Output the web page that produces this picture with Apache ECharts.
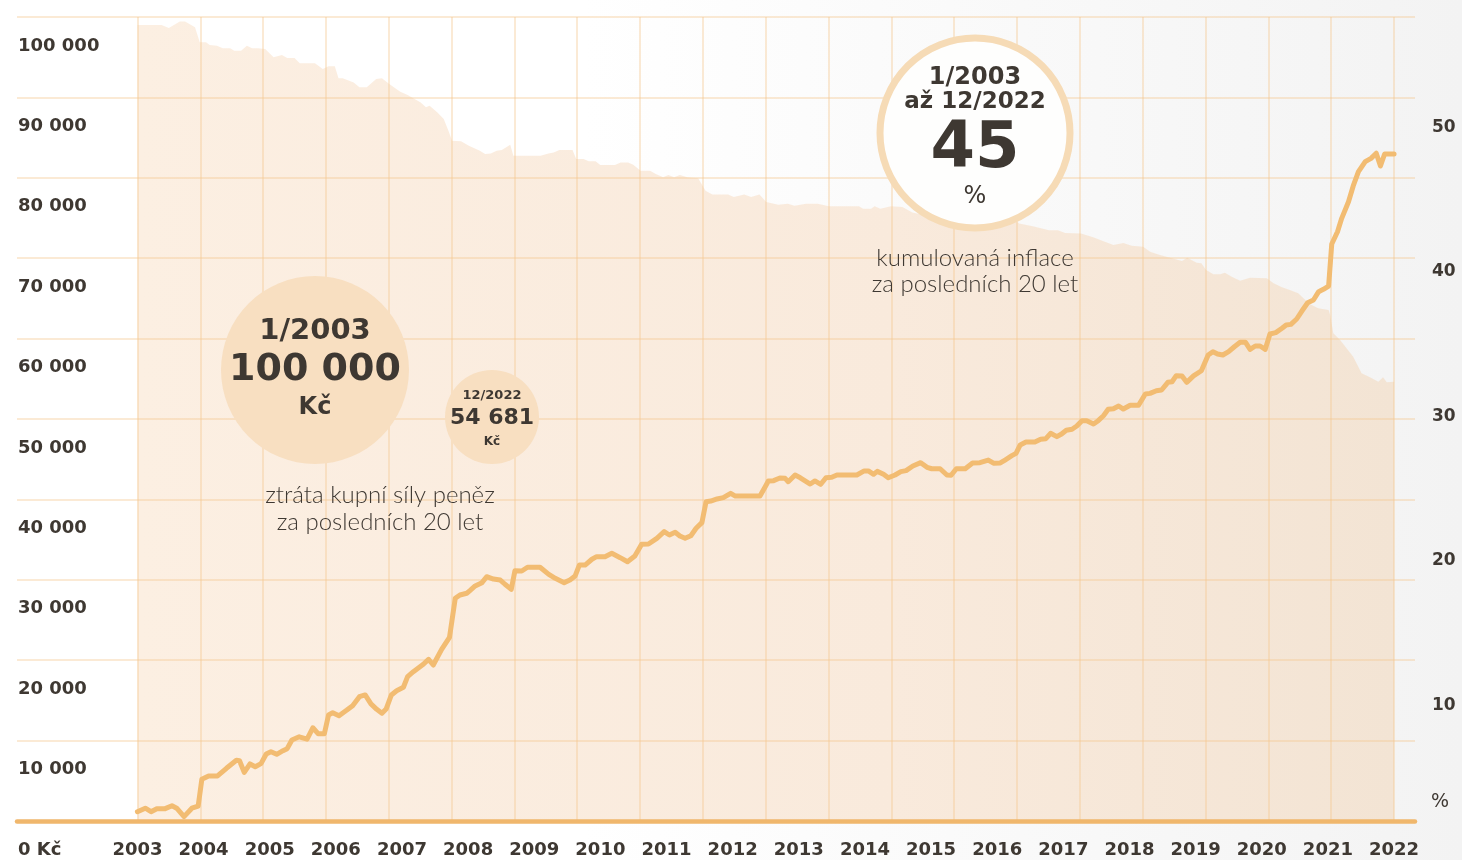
<!DOCTYPE html>
<html>
<head>
<meta charset="utf-8">
<script src="https://cdn.jsdelivr.net/npm/echarts@6/dist/echarts.min.js"></script>
<style>
html,body{margin:0;padding:0;width:1462px;height:860px;overflow:hidden;
background:linear-gradient(to right,#ffffff 0%,#ffffff 40%,#f3f3f3 100%);}
#c{width:1462px;height:860px;}
</style>
</head>
<body>
<div id="c"></div>
<script>
// ---- DATA ----
const yearLabels = ['2003','2004','2005','2006','2007','2008','2009','2010','2011','2012','2013','2014','2015','2016','2017','2018','2019','2020','2021','2022'];
// months since 1/2003 (x position) and cumulative loss of purchasing power in %
const lossMonths = [0,1.5,2.6,3.7,5.3,6.6,7.5,8.9,10.4,11.6,
12.3,13.6,15.3,17,18.9,19.5,20.4,21.5,22.5,23.6,
24.6,25.5,26.6,27.8,28.6,29.5,30.9,32.4,33.5,34.5,
35.7,36.5,37.3,38.5,40,41.1,42.4,43.5,44.6,45.7,
46.7,47.5,48.5,49.5,50.8,51.6,52.7,54.6,55.6,56.5,
58.1,59.6,60.7,61.6,62.9,63.5,64.5,65.8,66.7,68,
69.3,70.2,71.4,72.1,73.4,74.5,76.9,78.5,79.8,81.5,
82.6,83.6,84.4,85.5,86.8,87.7,89.3,90.6,92.2,93.6,
95,96.3,97.6,99.2,100.6,101.6,102.7,103.6,104.6,105.7,
106.7,107.8,108.6,109.5,110.7,111.9,113.3,114.2,118.9,119.9,
120.5,121.5,122.7,123.7,124.3,125.6,126.6,128.5,129.4,130.5,
131.5,132.6,133.6,137.4,138.8,139.6,140.6,141.3,142.5,143.4,
144.7,145.8,146.8,148.1,149.6,150.8,151.7,153.3,154.6,155.4,
156.4,158.1,159.5,160.9,162.5,163.5,164.8,165.7,167,167.8,
168.6,169.7,171.4,172.5,173.5,174.4,175.6,176.5,177.4,178.5,
179.4,180.4,181.3,182.6,183.5,184.5,185.4,186.4,187.4,188.3,
189.6,191.2,192.5,193.4,194.6,195.6,196.8,197.6,198.4,199.5,
200.4,201.7,203.2,204.5,205.4,206.3,207.3,208.4,209.5,210.6,
211.6,212.5,213.5,214.4,215.4,216.3,217.4,218.6,219.4,220.3,
221.4,222.4,223.5,224.6,225.6,226.5,227.5,228.1,229.2,230,
231.3,232.2,233.2,234.5,235.6,236.6,237.4,238.2,240];
const lossValues = [0.04,0.28,0.04,0.25,0.25,0.45,0.28,-0.30,0.28,0.43,
2.27,2.50,2.50,3.03,3.58,3.55,2.75,3.33,3.14,3.35,
4.01,4.17,3.99,4.24,4.38,4.98,5.20,5.03,5.82,5.41,
5.41,6.70,6.86,6.65,7.04,7.34,7.96,8.08,7.46,7.09,
6.82,7.11,8.08,8.37,8.61,9.34,9.68,10.19,10.53,10.14,
11.22,12.05,14.73,14.96,15.08,15.26,15.58,15.81,16.22,16.06,
15.99,15.70,15.35,16.63,16.61,16.87,16.87,16.40,16.11,15.81,
15.99,16.27,17.02,17.02,17.42,17.60,17.60,17.83,17.53,17.25,
17.64,18.45,18.47,18.86,19.32,19.09,19.28,19.02,18.86,19.04,
19.55,19.94,21.38,21.43,21.57,21.66,21.96,21.77,21.77,22.41,
22.81,22.83,23.01,22.99,22.76,23.22,23.03,22.60,22.81,22.58,
23.03,23.06,23.22,23.22,23.50,23.50,23.27,23.47,23.27,23.03,
23.22,23.45,23.52,23.84,24.07,23.75,23.65,23.65,23.22,23.20,
23.65,23.65,24.05,24.07,24.25,24.03,24.05,24.25,24.55,24.71,
25.29,25.49,25.49,25.68,25.72,26.09,25.86,26.04,26.30,26.37,
26.59,26.96,26.96,26.73,26.96,27.30,27.74,27.78,27.97,27.76,
28.02,28.02,28.80,28.84,29.02,29.07,29.60,29.64,30.06,30.04,
29.60,30.04,30.40,31.48,31.71,31.55,31.48,31.71,32.05,32.36,
32.36,31.87,32.10,32.10,31.87,32.93,33.02,33.32,33.55,33.59,
33.96,34.51,35.08,35.27,35.84,36.00,36.23,39.12,39.97,40.89,
42.03,43.12,44.10,44.79,45.02,45.37,44.49,45.32,45.32];
// purchasing power of 100 000 Kč (1/2003)
const powerMonths = [0,4.6,6.0,8.1,9.1,11.0,11.9,13.1,13.8,15.2,
16.3,17.7,18.5,19.8,20.9,21.9,23.0,24.4,26.0,27.6,
28.6,30.0,31.0,33.9,35.4,36.5,37.7,38.4,39.2,41.3,
42.4,43.8,45.6,46.7,48.1,50.2,51.6,54.1,55.1,55.8,
57.3,58.5,59.4,60.1,61.8,63.3,65.4,66.4,67.5,68.6,
69.6,71.2,71.8,77.0,78.5,79.5,80.6,83.1,83.8,85.2,
86.2,87.5,88.4,91.2,92.3,93.7,94.7,96.1,97.9,99.0,
100.4,101.4,102.5,103.6,105.0,107.1,108.5,109.8,112.8,113.9,
115.9,117.2,118.8,120.1,122.4,124.2,125.5,127.7,129.9,132.1,
137.8,138.6,140.1,140.8,141.9,143.9,146.1,148,150,152,
154.6,156.5,158.5,160.5,163,165.5,167.5,168.4,171.0,174.1,
175.8,177.2,180.2,182.4,183.9,186.4,188.3,189.9,192.1,193.4,
195.3,197.6,199.5,200.5,202.3,203.2,204.1,205.5,206.8,207.7,
209.0,210.6,212.5,215.7,217.0,218.6,220.1,221.7,222.7,223.9,
225.5,227.5,227.8,228.4,229.7,232.2,233.8,235.4,237.0,237.9,
238.6,240];
const powerValues = [100000,100000,99620,100430,100430,99710,97800,97800,97460,97370,
97040,97040,96740,96740,97370,97040,97040,96950,95900,96190,
95810,95810,95140,95140,94410,94760,94760,93230,93230,92710,
92080,92080,93140,93230,92510,91530,91110,90170,89540,89750,
88900,88060,86580,85310,85220,84670,84040,83600,83690,84040,
84130,84800,83400,83400,83690,83820,84130,84130,82970,82970,
82680,82680,82220,82220,82550,82550,82250,81480,81480,81070,
80650,80940,80650,80940,80650,80520,78940,78460,78460,78160,
78460,78160,78460,77520,77180,77300,77050,77300,77300,76970,
76970,76670,76670,76970,76670,76970,76890,76200,75900,76300,
76800,76350,76350,75950,75900,75800,75300,74780,74430,73930,
73930,73580,73510,73080,72700,72060,72310,71970,71840,71210,
70790,70370,70030,70450,69810,69730,68880,68340,68340,68540,
68030,67520,67910,67830,67190,66690,66340,65920,65290,64560,
64020,63800,63150,60840,59990,57870,55760,55250,54690,55250,
54620,54681];

// ---- CHART ----
const TXT = '#3e3832';
const NUM = '"DejaVu Sans", sans-serif';
const LIGHT = 'Lato, "Open Sans", sans-serif';
const gridColor = 'rgba(245,200,145,0.5)';
const yearTickMonths = yearLabels.map((_, i) => i * 12).concat([yearLabels.length * 12]);
const yearLabelPos = yearLabels.map((_, i) => i * 240 / (yearLabels.length - 1));
const fmtThousands = v => String(v).replace(/\B(?=(\d{3})+(?!\d))/g, ' ');

const chart = echarts.init(document.getElementById('c'), null, {renderer: 'canvas'});

function txt(text, x, y, size, weight, family, color) {
  return {type: 'text', z: 20, style: {text: text, x: x, y: y, fill: color || TXT,
    font: (weight || 'bold') + ' ' + size + 'px ' + (family || NUM), align: 'center', verticalAlign: 'middle'}};
}

chart.setOption({
  animation: false,
  backgroundColor: 'transparent',
  grid: {left: 17, right: 47, top: 17, bottom: 39, containLabel: false, outerBoundsMode: 'none'},
  xAxis: {
    type: 'value', min: -23, max: 244, z: 1,
    axisLine: {show: true, onZero: false, lineStyle: {color: '#f0b76c', width: 4.5}},
    axisTick: {show: false, customValues: yearTickMonths},
    splitLine: {show: true, lineStyle: {color: gridColor, width: 1.5}},
    axisLabel: {
      customValues: yearLabelPos, margin: 20, color: TXT, fontFamily: NUM, fontWeight: 'bold', fontSize: 18,
      hideOverlap: false,
      formatter: v => yearLabels[Math.round(v * (yearLabels.length - 1) / 240)]
    }
  },
  yAxis: [
    { // left labelled axis (Kč) with horizontal grid
      type: 'value', min: 0, max: 100000, interval: 10000, position: 'left', z: 1,
      axisLine: {show: false}, axisTick: {show: false},
      splitLine: {show: true, lineStyle: {color: gridColor, width: 1.5}},
      axisLabel: {inside: true, margin: 1, color: TXT, fontFamily: NUM, fontWeight: 'bold', fontSize: 18,
        verticalAlign: 'top', lineHeight: 58,
        formatter: v => v === 0 ? '0 Kč' : fmtThousands(v)}
    },
    { // right labelled axis (%)
      type: 'value', min: 0, max: 55.64, interval: 10, position: 'right',
      axisLine: {show: false}, axisTick: {show: false}, splitLine: {show: false},
      axisLabel: {margin: 17, align: 'left', color: TXT, fontFamily: NUM, fontWeight: 'bold', fontSize: 17,
        verticalAlign: 'top', lineHeight: 58, showMaxLabel: false,
        formatter: v => (v === 0 || v > 50) ? '' : String(v)}
    },
    { // data scale for purchasing power
      type: 'value', min: -1105, max: 101016, show: false, splitLine: {show: false}
    },
    { // data scale for cumulative loss %
      type: 'value', min: -0.599, max: 54.75, show: false, splitLine: {show: false}
    }
  ],
  series: [
    {
      type: 'line', name: 'kupní síla', yAxisIndex: 2, z: 0, silent: true,
      symbol: 'none', showSymbol: false,
      data: powerMonths.map((m, i) => [m, powerValues[i]]),
      lineStyle: {width: 0},
      areaStyle: {origin: 'start', opacity: 1, color: new echarts.graphic.LinearGradient(0, 0, 1, 0, [
        {offset: 0, color: '#fcefe2'}, {offset: 0.6, color: '#f9eadc'}, {offset: 1, color: '#f3e4d4'}])}
    },
    {
      type: 'line', name: 'kumulovaná inflace', yAxisIndex: 3, z: 5,
      symbol: 'none', showSymbol: false,
      data: lossMonths.map((m, i) => [m, lossValues[i]]),
      lineStyle: {color: '#f2bc72', width: 5, join: 'round', cap: 'round'}
    }
  ],
  graphic: [
    {type: 'circle', z: 10, shape: {cx: 315, cy: 370, r: 94}, style: {fill: '#f8dfc1'}},
    txt('1/2003', 315, 331, 29),
    txt('100 000', 315, 370, 38),
    txt('Kč', 315, 408, 24),
    {type: 'circle', z: 10, shape: {cx: 492, cy: 417, r: 47}, style: {fill: '#f8dfc1'}},
    txt('12/2022', 492, 396, 13),
    txt('54 681', 492, 418, 22),
    txt('Kč', 492, 442, 12),
    txt('ztráta kupní síly peněz', 380, 495, 24, '300', LIGHT, TXT),
    txt('za posledních 20 let', 380, 522, 24, '300', LIGHT, TXT),
    {type: 'circle', z: 10, shape: {cx: 975, cy: 133, r: 95}, style: {fill: '#fefefd', stroke: '#f6dbb6', lineWidth: 7}},
    txt('1/2003', 975, 78, 24),
    txt('až 12/2022', 975, 102, 23),
    txt('45', 975, 150, 64),
    txt('%', 975, 197, 24, 'normal'),
    txt('kumulovaná inflace', 975, 258, 24, '300', LIGHT, TXT),
    txt('za posledních 20 let', 975, 284, 24, '300', LIGHT, TXT),
    txt('%', 1440, 802, 19, 'normal')
  ]
});
</script>
</body>
</html>
